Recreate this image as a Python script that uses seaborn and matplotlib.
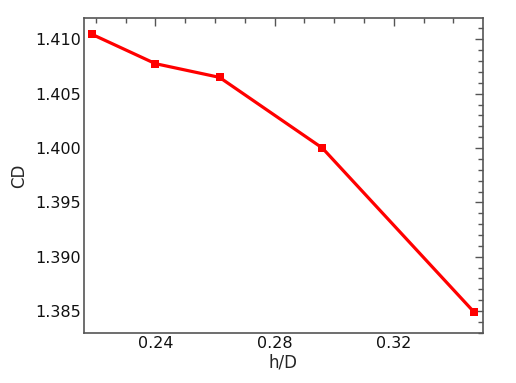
import numpy as np
import pandas as pd
import matplotlib
matplotlib.use("Agg")
import matplotlib.pyplot as plt
from matplotlib.ticker import MultipleLocator, FormatStrFormatter
import seaborn as sns

# values
h_over_d = [0.2187, 0.2400, 0.2615, 0.2960, 0.3470]
cd = [1.41046, 1.40776, 1.40650, 1.40000, 1.38488]

df = pd.DataFrame({"h/D": h_over_d, "CD": cd})

sns.set_style("white")
plt.rcParams['font.family'] = ['DejaVu Sans']

fig = plt.figure(figsize=(5.16, 3.83), dpi=100)
ax = fig.add_axes([0.162, 0.131, 0.774, 0.822])

sns.lineplot(data=df, x="h/D", y="CD", ax=ax, color="#ff0000", linewidth=2.3,
             marker="s", markersize=6, markeredgewidth=0, markeredgecolor="#ff0000")

ax.set_xlim(0.2159, 0.3499)
ax.set_ylim(1.3830, 1.41196)

ax.xaxis.set_major_locator(MultipleLocator(0.04))
ax.xaxis.set_minor_locator(MultipleLocator(0.01))
ax.yaxis.set_major_locator(MultipleLocator(0.005))
ax.yaxis.set_minor_locator(MultipleLocator(0.001))
ax.xaxis.set_major_formatter(FormatStrFormatter("%.2f"))
ax.yaxis.set_major_formatter(FormatStrFormatter("%.3f"))

spine_color = "#555555"
for s in ax.spines.values():
    s.set_color(spine_color)
    s.set_linewidth(1.2)

ax.tick_params(which="both", direction="in", top=True, right=True,
               color=spine_color, width=1.0, labelsize=11.5, labelcolor="#111111")
ax.tick_params(which="major", length=6, pad=2)
ax.tick_params(which="minor", length=3.5)

ax.set_xlabel("h/D", fontsize=12, labelpad=2)
ax.set_ylabel("CD", fontsize=12, labelpad=5)

fig.savefig("out.png", dpi=100)
